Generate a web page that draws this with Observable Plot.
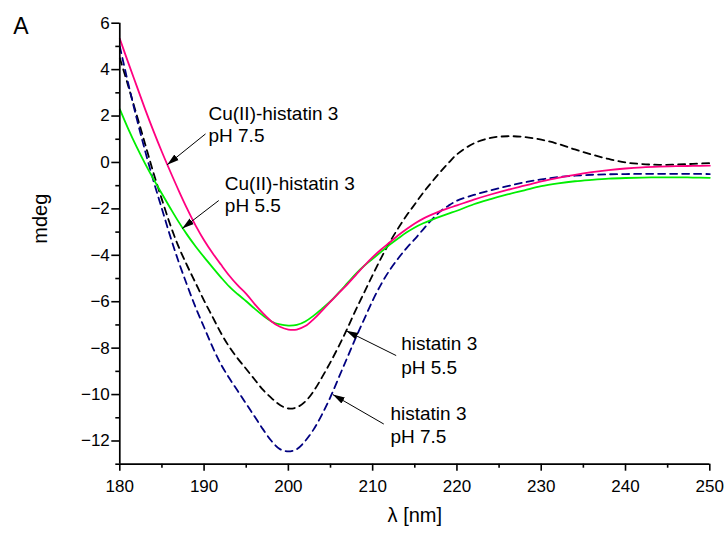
<!DOCTYPE html>
<html><head><meta charset="utf-8">
<script src="https://cdn.jsdelivr.net/npm/d3@7"></script>
<script src="https://cdn.jsdelivr.net/npm/@observablehq/plot@0.6"></script>
<style>body{margin:0;background:#fff}svg{display:block}</style>
</head><body><div id="chart"></div>
<script>
// wavelength grid (nm)
const wavelengths = [180,181,182,183,184,185,186,187,188,189,190,191,192,193,194,195,196,197,198,199,200,
  201,202,203,204,205,206,207,208,209,210,211,212,213,214,215,216,217,218,219,220,
  222,224,226,228,230,232,234,236,238,240,242,244,246,248,250];
// Cu(II)-histatin 3 pH 7.5 (magenta, solid)
const cuHis3pH75 = [5.33,4.3,3.3,2.3,1.35,0.45,-0.4,-1.22,-2.0,-2.72,-3.35,-3.9,-4.4,-4.88,-5.3,-5.66,-6.1,-6.5,-6.85,-7.08,-7.2,
  -7.2,-7.05,-6.75,-6.38,-6.0,-5.62,-5.25,-4.85,-4.45,-4.08,-3.75,-3.45,-3.15,-2.88,-2.63,-2.42,-2.25,-2.1,-1.97,-1.85,
  -1.6,-1.38,-1.18,-1.0,-0.82,-0.66,-0.53,-0.42,-0.33,-0.26,-0.21,-0.18,-0.16,-0.15,-0.14];
// Cu(II)-histatin 3 pH 5.5 (green, solid)
const cuHis3pH55 = [2.3,1.45,0.67,-0.05,-0.72,-1.35,-1.97,-2.57,-3.12,-3.62,-4.08,-4.52,-4.95,-5.35,-5.68,-5.98,-6.3,-6.6,-6.85,-6.98,-7.03,
  -7.0,-6.85,-6.6,-6.3,-5.98,-5.6,-5.2,-4.8,-4.45,-4.15,-3.85,-3.55,-3.28,-3.02,-2.8,-2.62,-2.47,-2.33,-2.2,-2.08,
  -1.8,-1.58,-1.38,-1.2,-1.02,-0.9,-0.81,-0.75,-0.7,-0.67,-0.65,-0.64,-0.64,-0.65,-0.66];
// histatin 3 pH 5.5 (black, dashed)
const his3pH55 = [4.5,3.3,2.05,0.8,-0.45,-1.6,-2.7,-3.65,-4.45,-5.2,-5.95,-6.65,-7.35,-7.95,-8.45,-8.9,-9.35,-9.8,-10.15,-10.45,-10.6,
  -10.55,-10.3,-9.85,-9.25,-8.6,-7.9,-7.15,-6.35,-5.6,-4.85,-4.12,-3.45,-2.85,-2.3,-1.8,-1.3,-0.85,-0.42,-0.02,0.35,
  0.82,1.06,1.13,1.1,0.98,0.8,0.56,0.34,0.15,0.0,-0.07,-0.1,-0.09,-0.06,-0.03];
// histatin 3 pH 7.5 (navy, dashed)
const his3pH75 = [5.0,3.4,1.9,0.5,-0.8,-2.0,-3.2,-4.3,-5.3,-6.25,-7.1,-7.95,-8.7,-9.3,-9.85,-10.4,-10.95,-11.5,-12.0,-12.35,-12.45,
  -12.35,-12.0,-11.5,-10.85,-10.1,-9.25,-8.4,-7.55,-6.75,-5.95,-5.25,-4.65,-4.15,-3.7,-3.3,-2.88,-2.47,-2.12,-1.86,-1.65,
  -1.4,-1.2,-1.02,-0.86,-0.73,-0.63,-0.57,-0.53,-0.51,-0.5,-0.49,-0.49,-0.49,-0.49,-0.5];

const xMajorTicks = [180,190,200,210,220,230,240,250];
const xMinorTicks = [185,195,205,215,225,235,245];
const yMajorTicks = [-12,-10,-8,-6,-4,-2,0,2,4,6];
const yMinorTicks = [-13,-11,-9,-7,-5,-3,-1,1,3,5];

// annotation labels (data coordinates of each text line) and arrows
const labelText = ["Cu(II)-histatin 3","pH 7.5","Cu(II)-histatin 3","pH 5.5","histatin 3","pH 5.5","histatin 3","pH 7.5"];
const labelX    = [190.52,190.52,192.46,192.46,213.38,213.38,212.11,212.11];
const labelY    = [2.11,1.16,-0.91,-1.86,-7.82,-8.84,-10.82,-11.81];
const arrowX1 = [190.17,191.74,212.79,211.32];
const arrowY1 = [1.23,-1.64,-8.32,-11.27];
const arrowX2 = [185.62,187.4,206.86,205.27];
const arrowY2 = [-0.10,-2.85,-7.25,-10.0];

const toRows = vals => wavelengths.map((w, i) => ({w, v: vals[i]}));
const labels = labelText.map((t, i) => ({t, x: labelX[i], y: labelY[i]}));
const arrows = arrowX1.map((x1, i) => ({x1, y1: arrowY1[i], x2: arrowX2[i], y2: arrowY2[i]}));

const FONT = "'Liberation Sans', Arial, Helvetica, sans-serif";

const plot = Plot.plot({
  width: 727,
  height: 534,
  marginLeft: 119.3,
  marginRight: 17.7,
  marginTop: 22.7,
  marginBottom: 70.3,
  style: {fontFamily: FONT, fontSize: "17px", color: "#000", background: "#fff"},
  x: {domain: [180, 250], label: null},
  y: {domain: [-13, 6], label: null},
  marks: [
    Plot.line(toRows(his3pH55), {x: "w", y: "v", stroke: "#000000", strokeWidth: 1.8, strokeDasharray: "7,5", curve: "catmull-rom"}),
    Plot.line(toRows(his3pH75), {x: "w", y: "v", stroke: "#000080", strokeWidth: 1.8, strokeDasharray: "7,5", curve: "catmull-rom"}),
    Plot.line(toRows(cuHis3pH55), {x: "w", y: "v", stroke: "#00ee00", strokeWidth: 1.8, curve: "catmull-rom"}),
    Plot.line(toRows(cuHis3pH75), {x: "w", y: "v", stroke: "#ff0080", strokeWidth: 1.8, curve: "catmull-rom"}),
    Plot.ruleX([180], {stroke: "#000", strokeWidth: 1.7}),
    Plot.ruleY([-13], {stroke: "#000", strokeWidth: 1.7}),
    Plot.axisY({ticks: yMajorTicks, tickSize: 8, tickPadding: 2, strokeWidth: 1.6, fontSize: 17,
      tickFormat: d => d < 0 ? "\u2212" + Math.abs(d) : String(d), label: null}),
    Plot.axisY({ticks: yMinorTicks, tickSize: 4, strokeWidth: 1.6, tickFormat: () => "", label: null}),
    Plot.axisX({ticks: xMajorTicks, tickSize: 7, tickPadding: 9, strokeWidth: 1.6, fontSize: 17, tickFormat: d => String(d), label: null}),
    Plot.axisX({ticks: xMinorTicks, tickSize: 4, strokeWidth: 1.6, tickFormat: () => "", label: null}),
    Plot.link(arrows, {x1: "x1", y1: "y1", x2: "x2", y2: "y2", stroke: "#000", strokeWidth: 1}),
    Plot.text(labels, {x: "x", y: "y", text: "t", textAnchor: "start", lineAnchor: "middle", fontSize: 19, fill: "#000"}),
    Plot.text(["\u03bb [nm]"], {frameAnchor: "bottom", text: d => d, dy: 51, lineAnchor: "middle", fontSize: 20, fill: "#000"}),
    Plot.text(["mdeg"], {frameAnchor: "left", text: d => d, dx: -79, rotate: -90, lineAnchor: "middle", fontSize: 20, fill: "#000"}),
    Plot.text(["A"], {frameAnchor: "top-left", text: d => d, dx: -106.6, dy: -6, textAnchor: "start", lineAnchor: "top", fontSize: 23, fill: "#000"})
  ]
});

// filled arrowheads for the annotation links
const svg = d3.select(plot);
const defs = svg.append("defs");
defs.append("marker")
  .attr("id", "ahead")
  .attr("markerUnits", "userSpaceOnUse")
  .attr("viewBox", "-12 -6 12 12")
  .attr("refX", 0).attr("refY", 0)
  .attr("markerWidth", 12).attr("markerHeight", 12)
  .attr("orient", "auto")
  .append("path").attr("d", "M-12,-3.5L0,0L-12,3.5Z").attr("fill", "#000").attr("stroke", "none");
svg.selectAll('g[aria-label="link"] path').attr("marker-end", "url(#ahead)");

document.getElementById("chart").appendChild(plot);
</script>
</body></html>
